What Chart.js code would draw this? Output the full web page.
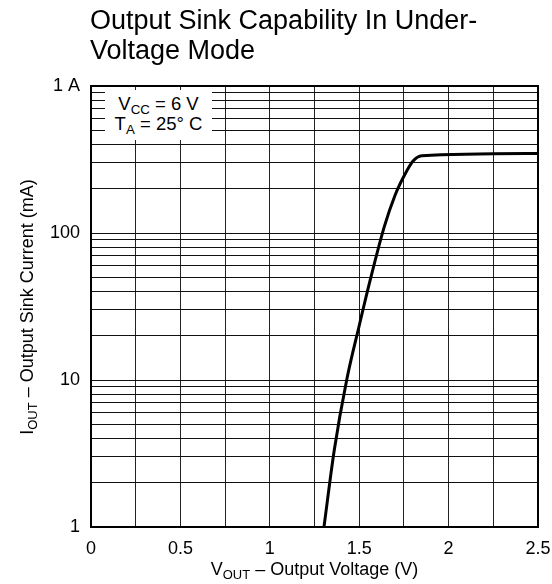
<!DOCTYPE html>
<html>
<head>
<meta charset="utf-8">
<script src="https://cdn.jsdelivr.net/npm/chart.js@4"></script>
<style>
  body { margin: 0; background: #fff; font-family: "Liberation Sans", Arial, sans-serif; }
  #wrap { position: relative; width: 552px; height: 584px; overflow: hidden; }
  #chart { position: absolute; left: 0; top: 0; }
  .title { position: absolute; left: 90px; top: 5px; font-size: 27px; line-height: 30px; color: #000; white-space: nowrap; }
  .note { position: absolute; left: 105px; top: 90px; width: 107px; height: 50px; background: #fff;
          font-size: 18.5px; line-height: 20px; text-align: center; color: #000; padding-top: 4px;
          box-sizing: border-box; white-space: nowrap; }
  .xlabel { position: absolute; left: 0; width: 629px; top: 559px; line-height: 20px; text-align: center;
            font-size: 18px; color: #000; white-space: nowrap; }
  .ylabel { position: absolute; left: 27px; top: 307px; width: 420px; height: 20px; line-height: 20px;
            text-align: center; font-size: 18px; color: #000; white-space: nowrap;
            transform: translate(-50%, -50%) rotate(-90deg); }
  sub { font-size: 0.72em; vertical-align: -0.3em; line-height: 0; }
</style>
</head>
<body>
<div id="wrap">
  <canvas id="chart" width="552" height="584"></canvas>
  <div class="title">Output Sink Capability In Under-<br>Voltage Mode</div>
  <div class="note">V<sub>CC</sub> = 6 V<br>T<sub>A</sub> = 25° C</div>
  <div class="xlabel">V<sub>OUT</sub> – Output Voltage (V)</div>
  <div class="ylabel">I<sub>OUT</sub> – Output Sink Current (mA)</div>
</div>
<script>
// curve: output voltage (V) vs sink current (mA)
const vOut = [1.303, 1.36, 1.43, 1.50, 1.56, 1.64, 1.70, 1.75, 1.80, 1.85, 2.5];
const iSink = [1, 3.3, 10, 23.4, 47, 110, 180, 243, 308, 336, 348];

// axis ticks
const xTicks = [0, 0.25, 0.5, 0.75, 1, 1.25, 1.5, 1.75, 2, 2.25, 2.5];
const xTickLabels = { 0: '0', 0.5: '0.5', 1: '1', 1.5: '1.5', 2: '2', 2.5: '2.5' };
const yDecades = [1, 10, 100, 1000];
const yTickLabels = { 1: '1', 10: '10', 100: '100', 1000: '1 A' };

// grid lines at 1..9 in every decade, up to 1 A
const yTicks = [];
yDecades.forEach(d => {
    if (d === 1000) { yTicks.push(1000); return; }
    for (let m = 1; m < 10; m++) yTicks.push(d * m);
});

const frame = {
    id: 'frame',
    afterDraw(chart) {
        const a = chart.chartArea, ctx = chart.ctx;
        ctx.save();
        ctx.strokeStyle = '#000';
        ctx.lineWidth = 2;
        ctx.strokeRect(a.left, a.top, a.right - a.left, a.bottom - a.top);
        ctx.restore();
    }
};

const tickFont = { family: 'Liberation Sans', size: 18 };

new Chart(document.getElementById('chart'), {
    type: 'line',
    data: {
        datasets: [{
            data: vOut.map((v, i) => ({ x: v, y: iSink[i] })),
            borderColor: '#000',
            borderWidth: 3,
            pointRadius: 0,
            cubicInterpolationMode: 'monotone',
            fill: false
        }]
    },
    options: {
        responsive: false,
        animation: false,
        devicePixelRatio: 1,
        layout: { padding: { left: 0, top: 86, right: 14, bottom: 0 } },
        plugins: { legend: { display: false }, tooltip: { enabled: false } },
        scales: {
            x: {
                type: 'linear',
                min: 0,
                max: 2.5,
                afterBuildTicks: s => { s.ticks = xTicks.map(v => ({ value: v })); },
                afterFit: s => { s.height = 57; s.paddingLeft = 0; s.paddingRight = 0; },
                grid: { color: '#222', lineWidth: 1, drawTicks: false },
                border: { display: false },
                ticks: {
                    color: '#000',
                    font: tickFont,
                    padding: 11,
                    maxRotation: 0,
                    autoSkip: false,
                    callback: v => xTickLabels[v] !== undefined ? xTickLabels[v] : ''
                }
            },
            y: {
                type: 'logarithmic',
                min: 1,
                max: 1000,
                afterBuildTicks: s => { s.ticks = yTicks.map(v => ({ value: v })); },
                afterFit: s => { s.width = 91; s.paddingTop = 0; s.paddingBottom = 0; },
                grid: { color: '#111', lineWidth: 1, drawTicks: false },
                border: { display: false },
                ticks: {
                    color: '#000',
                    font: tickFont,
                    padding: 11,
                    autoSkip: false,
                    callback: v => yTickLabels[v] !== undefined ? yTickLabels[v] : ''
                }
            }
        }
    },
    plugins: [frame]
});
</script>
</body>
</html>
